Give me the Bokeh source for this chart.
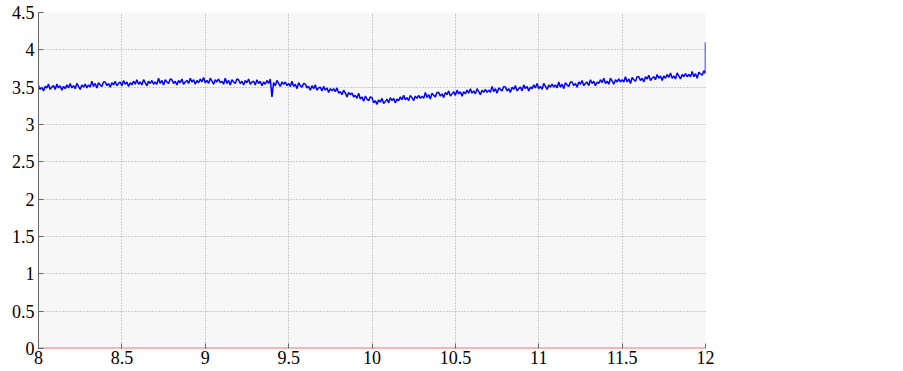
import numpy as np
from bokeh.plotting import figure
from bokeh.models import FixedTicker, Range1d
from bokeh.embed import file_html
from bokeh.resources import INLINE

# measured signal (sampled every 0.01 from 8 to 12)
signal = [
    3.52, 3.47, 3.50, 3.45, 3.51, 3.49, 3.54, 3.47, 3.50, 3.52,
    3.47, 3.54, 3.49, 3.52, 3.46, 3.51, 3.48, 3.53, 3.49, 3.55,
    3.49, 3.52, 3.48, 3.55, 3.51, 3.47, 3.53, 3.50, 3.54, 3.49,
    3.53, 3.50, 3.58, 3.51, 3.55, 3.49, 3.56, 3.53, 3.51, 3.57,
    3.57, 3.52, 3.55, 3.50, 3.56, 3.53, 3.58, 3.52, 3.55, 3.57,
    3.52, 3.59, 3.54, 3.57, 3.51, 3.56, 3.53, 3.58, 3.54, 3.60,
    3.54, 3.57, 3.53, 3.60, 3.56, 3.52, 3.58, 3.55, 3.59, 3.54,
    3.57, 3.54, 3.62, 3.55, 3.59, 3.53, 3.60, 3.57, 3.55, 3.61,
    3.60, 3.55, 3.58, 3.53, 3.59, 3.56, 3.61, 3.54, 3.57, 3.59,
    3.55, 3.62, 3.57, 3.60, 3.54, 3.59, 3.56, 3.61, 3.57, 3.63,
    3.56, 3.59, 3.55, 3.62, 3.58, 3.54, 3.60, 3.57, 3.61, 3.56,
    3.58, 3.54, 3.62, 3.55, 3.59, 3.53, 3.60, 3.57, 3.55, 3.61,
    3.60, 3.55, 3.58, 3.53, 3.59, 3.56, 3.61, 3.54, 3.57, 3.58,
    3.53, 3.60, 3.55, 3.58, 3.52, 3.57, 3.54, 3.59, 3.55, 3.61,
    3.37, 3.56, 3.52, 3.59, 3.55, 3.51, 3.57, 3.54, 3.57, 3.52,
    3.55, 3.51, 3.58, 3.51, 3.54, 3.48, 3.56, 3.52, 3.50, 3.55,
    3.54, 3.49, 3.51, 3.46, 3.52, 3.48, 3.53, 3.46, 3.49, 3.50,
    3.45, 3.51, 3.46, 3.49, 3.43, 3.48, 3.45, 3.48, 3.44, 3.49,
    3.42, 3.44, 3.40, 3.46, 3.42, 3.37, 3.43, 3.40, 3.42, 3.37,
    3.39, 3.35, 3.42, 3.34, 3.37, 3.31, 3.38, 3.34, 3.32, 3.37,
    3.36, 3.29, 3.32, 3.27, 3.33, 3.30, 3.35, 3.28, 3.31, 3.34,
    3.29, 3.36, 3.32, 3.35, 3.29, 3.34, 3.32, 3.37, 3.33, 3.39,
    3.33, 3.36, 3.32, 3.39, 3.36, 3.32, 3.38, 3.35, 3.39, 3.35,
    3.38, 3.35, 3.43, 3.36, 3.40, 3.34, 3.42, 3.39, 3.37, 3.43,
    3.43, 3.38, 3.41, 3.36, 3.43, 3.40, 3.45, 3.38, 3.41, 3.44,
    3.39, 3.46, 3.41, 3.44, 3.38, 3.44, 3.41, 3.46, 3.42, 3.48,
    3.42, 3.45, 3.41, 3.48, 3.44, 3.40, 3.46, 3.43, 3.47, 3.43,
    3.46, 3.43, 3.51, 3.44, 3.48, 3.42, 3.49, 3.47, 3.45, 3.51,
    3.50, 3.45, 3.48, 3.43, 3.50, 3.47, 3.52, 3.45, 3.48, 3.50,
    3.45, 3.53, 3.48, 3.51, 3.45, 3.50, 3.48, 3.53, 3.49, 3.55,
    3.48, 3.51, 3.47, 3.55, 3.51, 3.47, 3.53, 3.50, 3.54, 3.50,
    3.53, 3.49, 3.57, 3.50, 3.54, 3.48, 3.56, 3.53, 3.51, 3.57,
    3.57, 3.52, 3.55, 3.50, 3.57, 3.54, 3.59, 3.52, 3.55, 3.57,
    3.52, 3.60, 3.55, 3.58, 3.52, 3.57, 3.55, 3.60, 3.56, 3.62,
    3.55, 3.58, 3.54, 3.62, 3.58, 3.54, 3.60, 3.57, 3.61, 3.57,
    3.60, 3.57, 3.64, 3.57, 3.61, 3.55, 3.63, 3.60, 3.58, 3.64,
    3.64, 3.59, 3.62, 3.57, 3.64, 3.61, 3.66, 3.59, 3.62, 3.64,
    3.60, 3.67, 3.62, 3.65, 3.59, 3.65, 3.62, 3.67, 3.63, 3.69,
    3.62, 3.65, 3.61, 3.69, 3.65, 3.61, 3.67, 3.64, 3.68, 3.64,
    3.67, 3.64, 3.71, 3.64, 3.68, 3.62, 3.70, 3.68, 3.66, 3.72,
    3.68,
]
spike_x = [12.0]
spike_y = [4.10]
baseline_x = [8.0, 12.0]
baseline_y = [0.0, 0.0]

x_ticks = [8, 8.5, 9, 9.5, 10, 10.5, 11, 11.5, 12]
x_labels = ["8", "8.5", "9", "9.5", "10", "10.5", "11", "11.5", "12"]
y_ticks = [0, 0.5, 1, 1.5, 2, 2.5, 3, 3.5, 4, 4.5]
y_labels = ["0", "0.5", "1", "1.5", "2", "2.5", "3", "3.5", "4", "4.5"]

sig_x = list(np.linspace(8.0, 12.0, len(signal))) + spike_x
sig_y = signal + spike_y

p = figure(width=724, height=366, output_backend="svg", toolbar_location=None,
           x_range=Range1d(8, 12), y_range=Range1d(0, 4.5),
           min_border_left=38, min_border_top=12, min_border_right=19,
           min_border_bottom=2)
p.background_fill_color = "#f7f7f7"
p.border_fill_color = "white"
p.outline_line_color = None

p.line(baseline_x, baseline_y, line_color="#ff6e6e", line_width=2)
p.line(sig_x, sig_y, line_color="#0000ff", line_width=1.5)

xa = p.xaxis[0]
ya = p.yaxis[0]
for ax in (xa, ya):
    ax.major_label_text_font = "Liberation Serif"
    ax.major_label_text_font_size = "18px"
    ax.major_label_text_color = "black"
    ax.axis_line_color = "#666666"
    ax.major_tick_line_color = "#666666"
    ax.major_tick_in = 5
    ax.major_tick_out = 0
    ax.minor_tick_line_color = None

xa.major_label_standoff = 2
ya.major_label_standoff = 4
xa.ticker = FixedTicker(ticks=x_ticks)
ya.ticker = FixedTicker(ticks=y_ticks)
xa.major_label_overrides = {t: l for t, l in zip(x_ticks, x_labels)}
ya.major_label_overrides = {t: l for t, l in zip(y_ticks, y_labels)}
xa.axis_line_color = None

for g in (p.xgrid[0], p.ygrid[0]):
    g.ticker = FixedTicker(ticks=x_ticks if g is p.xgrid[0] else y_ticks)
    g.grid_line_color = "#a0a0a0"
    g.grid_line_dash = "1 2"
    g.grid_line_width = 1

open("out.html", "w").write(file_html(p, INLINE))
